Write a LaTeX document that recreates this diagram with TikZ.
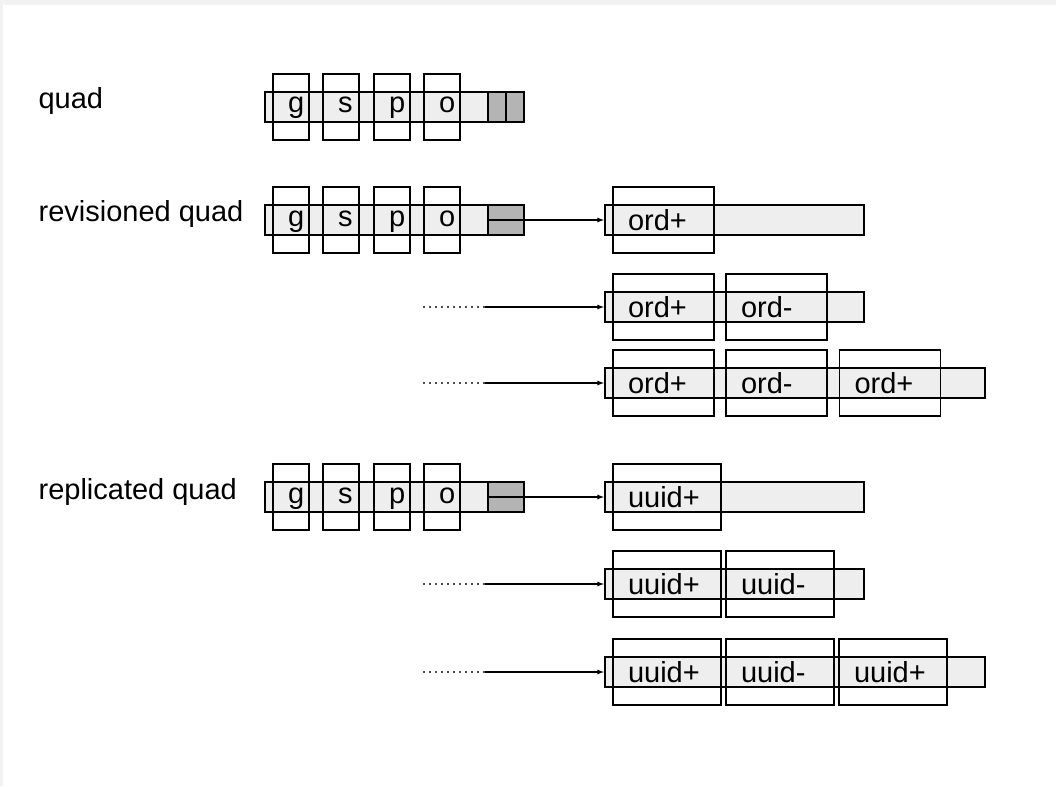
\documentclass[tikz,border=0pt]{standalone}
\usepackage{fontspec}
\setmainfont{Liberation Sans}
\usetikzlibrary{arrows.meta}
\definecolor{barfill}{HTML}{EEEEEE}
\definecolor{tagfill}{HTML}{B4B4B4}
\definecolor{pageedge}{HTML}{F2F2F2}
\begin{document}
\begin{tikzpicture}[x=1pt, y=-1pt, line width=1.2pt,
  >={Latex[length=7pt,width=5pt]},
  every node/.style={font=\fontsize{29}{34}\selectfont},
  bar/.style={draw, fill=barfill, minimum height=30pt, inner sep=0pt, minimum width=#1},
  tag/.style={draw, fill=tagfill, minimum height=30pt, inner sep=0pt, minimum width=#1},
  cell/.style={draw, minimum height=66pt, inner ysep=0pt, inner xsep=15pt, align=left, text width=#1},
  letter/.style={cell=6pt, text height=12pt, text depth=0pt},
  ordcell/.style={cell=71pt, text height=22pt, text depth=1pt},
  uuidcell/.style={cell=78pt, text height=22pt, text depth=1pt},
  title/.style={anchor=base west, inner sep=0pt},
  dots/.style={dash pattern=on 1.5pt off 4.5pt, line width=1.2pt, black!70}]

\fill[pageedge] (0,0) rectangle (1056,786);
\fill[white] (3,5) rectangle (1056,786);
\useasboundingbox (0,0) rectangle (1056,786);

\node[title] (quad) at (38,109) {quad};
\node[bar=259pt] (qbar) at (394.5,107) {};
\node[tag=18pt] (qtag1) at (497,107) {};
\node[tag=18pt] (qtag2) at (515,107) {};
\foreach \l/\x in {g/291,s/341,p/392,o/442}
  \node[letter] (q\l) at (\x,107) {\l};

\node[title] (rquad) at (38,222) {revisioned quad};
\node[bar=259pt] (rbar) at (394.5,220) {};
\node[tag=36pt] (rtag) at (506,220) {};
\foreach \l/\x in {g/291,s/341,p/392,o/442}
  \node[letter] (r\l) at (\x,220) {\l};

\node[bar=259pt] (oa) at (734.5,220) {};
\node[ordcell] (oa1) at (663.5,220) {ord+};
\draw[->] (rtag.west) -- (oa.west);

\node[bar=259pt] (ob) at (734.5,307) {};
\node[ordcell] (ob1) at (663.5,307) {ord+};
\node[ordcell] (ob2) at (776.5,307) {ord-};
\coordinate (obdot) at (423,307);
\coordinate (obline) at (485,307);
\draw[dots] (obdot) -- (obline);
\draw[->] (obline) -- (ob.west);

\node[bar=380pt] (oc) at (795,383) {};
\node[ordcell] (oc1) at (663.5,383) {ord+};
\node[ordcell] (oc2) at (776.5,383) {ord-};
\node[ordcell] (oc3) at (890,383) {ord+};
\coordinate (ocdot) at (423,383);
\coordinate (ocline) at (485,383);
\draw[dots] (ocdot) -- (ocline);
\draw[->] (ocline) -- (oc.west);

\node[title] (pquad) at (38,499) {replicated quad};
\node[bar=259pt] (pbar) at (394.5,497) {};
\node[tag=36pt] (ptag) at (506,497) {};
\foreach \l/\x in {g/291,s/341,p/392,o/442}
  \node[letter] (p\l) at (\x,497) {\l};

\node[bar=259pt] (ua) at (734.5,497) {};
\node[uuidcell] (ua1) at (667,497) {uuid+};
\draw[->] (ptag.west) -- (ua.west);

\node[bar=259pt] (ub) at (734.5,584) {};
\node[uuidcell] (ub1) at (667,584) {uuid+};
\node[uuidcell] (ub2) at (780,584) {uuid-};
\coordinate (ubdot) at (423,584);
\coordinate (ubline) at (485,584);
\draw[dots] (ubdot) -- (ubline);
\draw[->] (ubline) -- (ub.west);

\node[bar=380pt] (uc) at (795,672) {};
\node[uuidcell] (uc1) at (667,672) {uuid+};
\node[uuidcell] (uc2) at (780,672) {uuid-};
\node[uuidcell] (uc3) at (893,672) {uuid+};
\coordinate (ucdot) at (423,672);
\coordinate (ucline) at (485,672);
\draw[dots] (ucdot) -- (ucline);
\draw[->] (ucline) -- (uc.west);
\end{tikzpicture}
\end{document}
